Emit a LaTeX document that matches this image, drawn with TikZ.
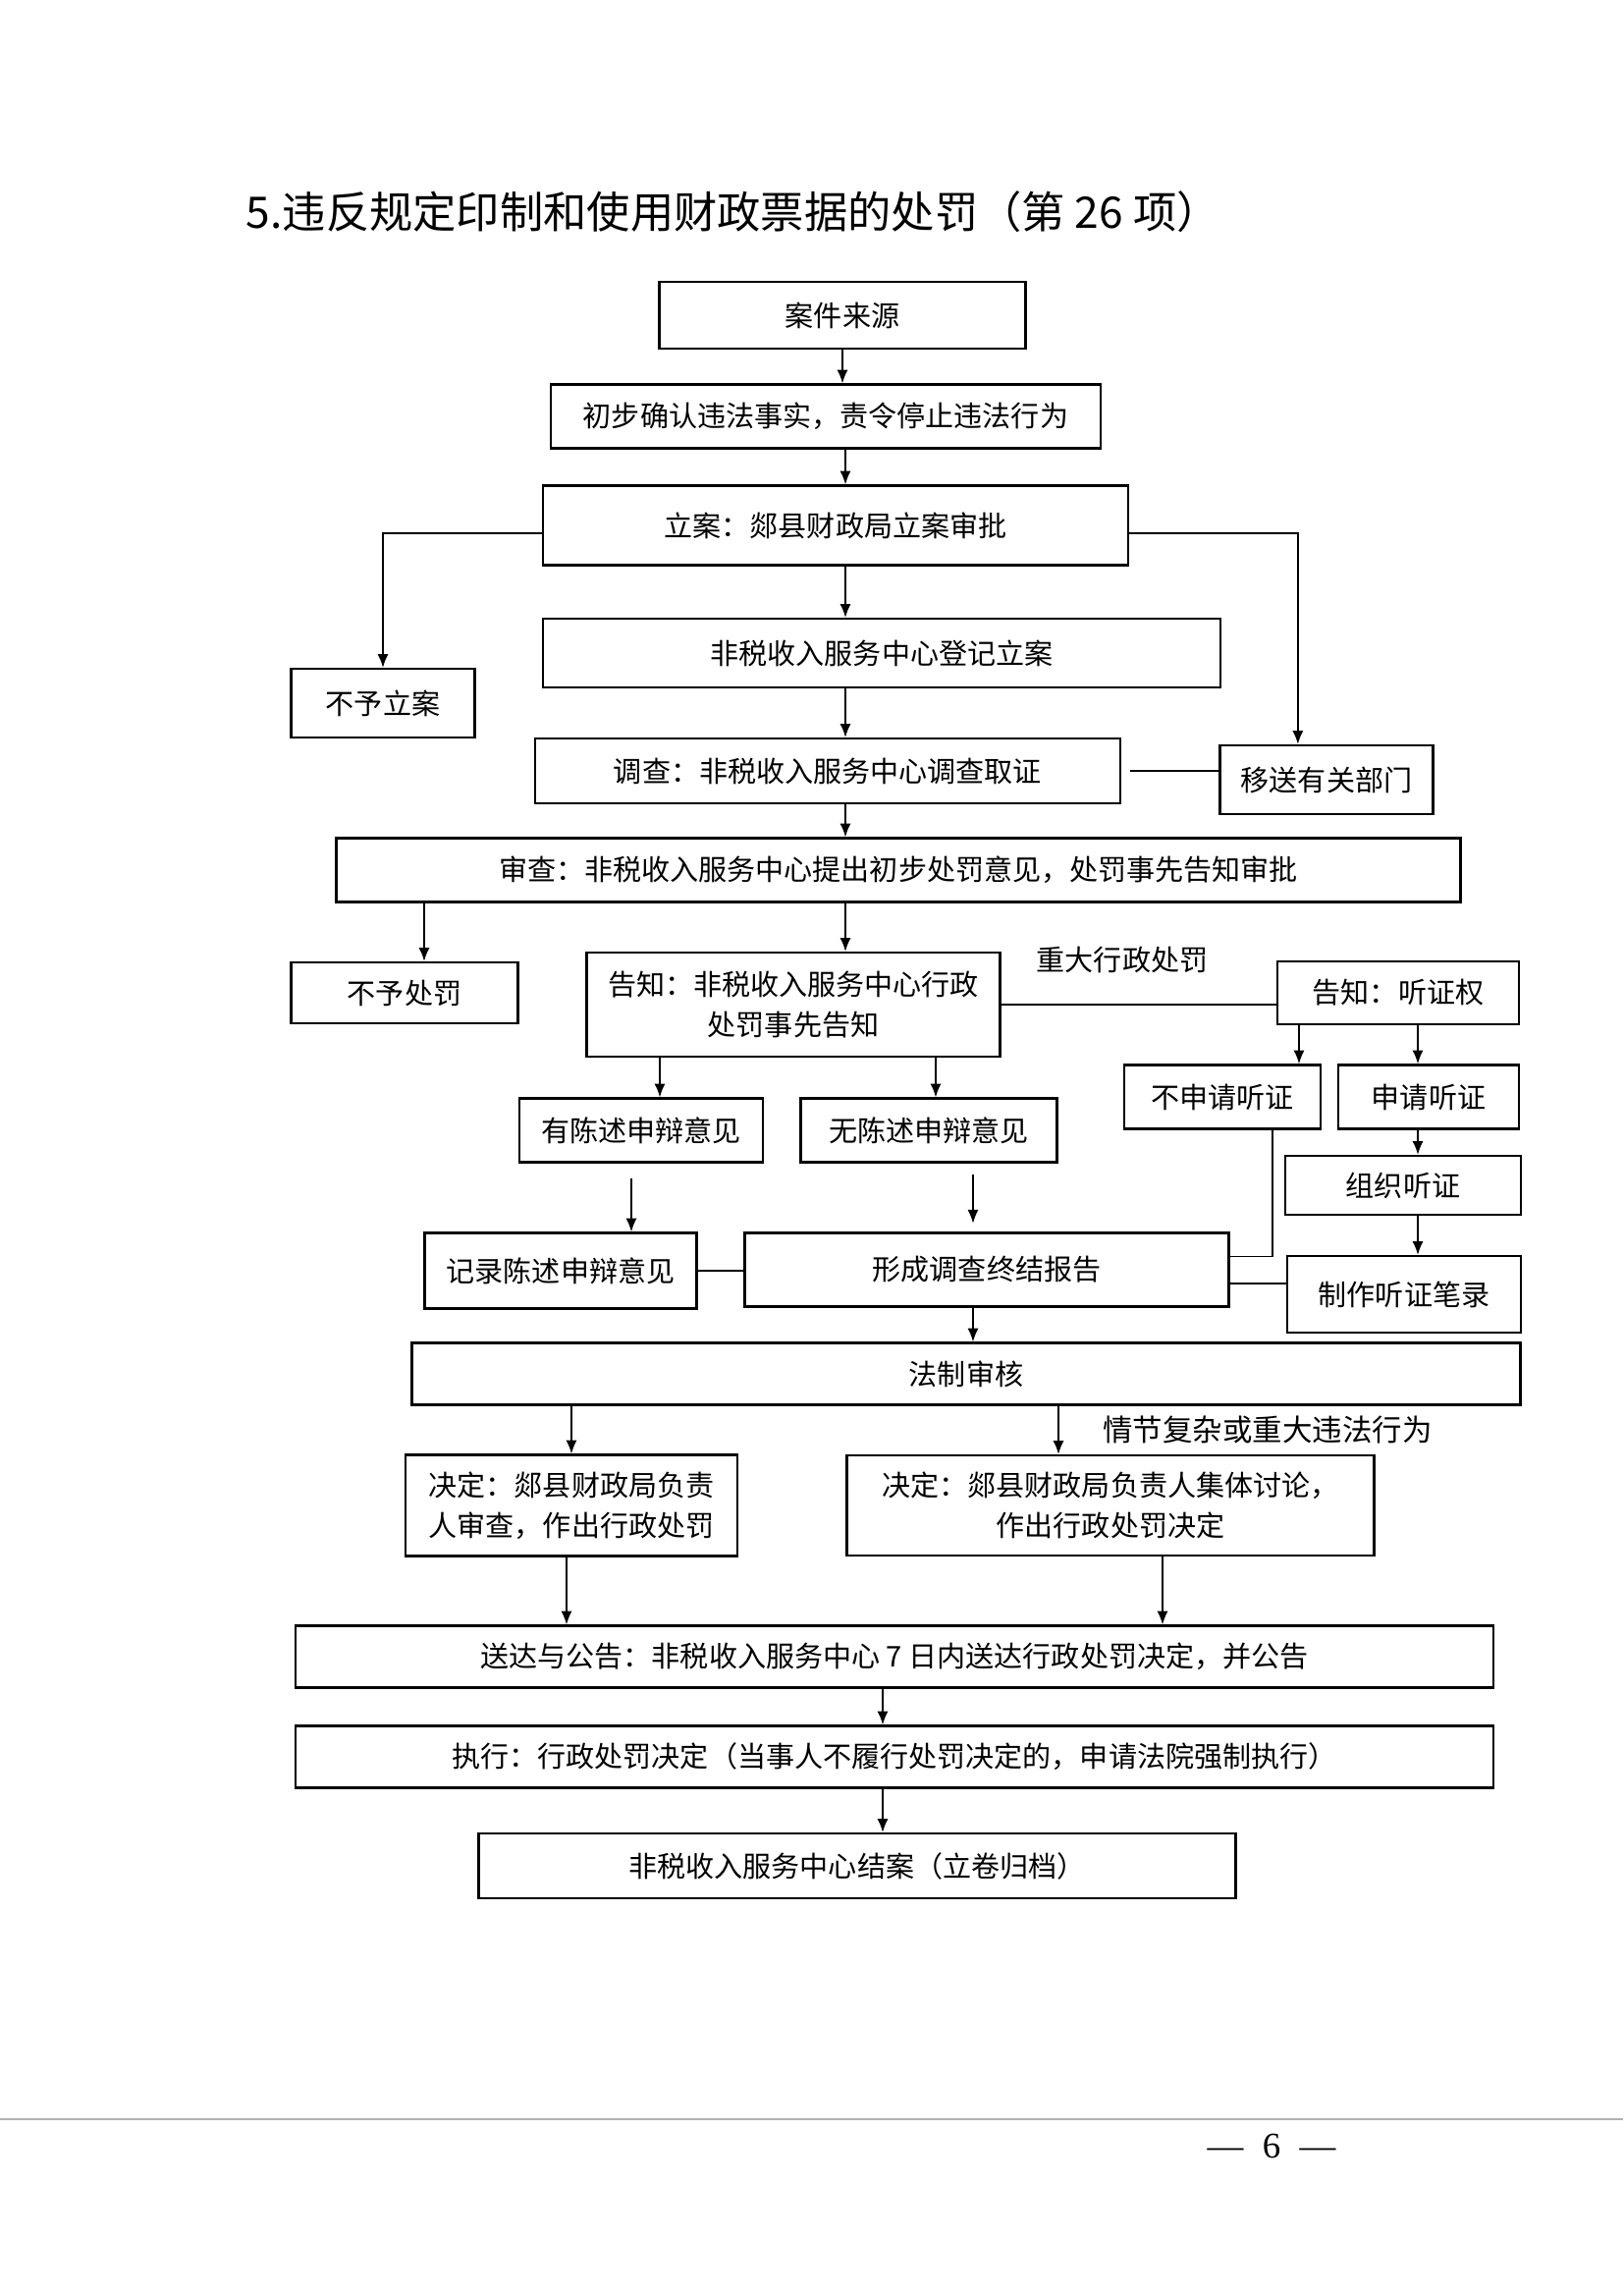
\documentclass[tikz,border=0pt]{standalone}
\usepackage{fontspec}
\setmainfont{Noto Sans CJK SC}
\newfontfamily\numfont{Liberation Serif}
\usetikzlibrary{arrows.meta}

\begin{document}
\begin{tikzpicture}[x=0.0127cm,y=-0.0127cm,>={Latex[length=5pt,width=4pt]},line width=0.6pt,
  b/.style={draw,line width=0.8pt,align=center,font=\fontsize{10.5}{14.7}\selectfont,inner sep=2pt},
  sz/.style n args={2}{minimum width=#1*0.0127cm,minimum height=#2*0.0127cm},
  lab/.style={font=\fontsize{10.5}{14.7}\selectfont,inner sep=0pt}]
\useasboundingbox (0,0) rectangle (1653,2336);
\node[anchor=west,inner sep=0pt,font=\fontsize{16}{18}\selectfont] (title) at (250,216) {5.违反规定印制和使用财政票据的处罚（第 26 项）};
% boxes
\node[b,sz={373}{68}] (src) at (858,321) {案件来源};
\node[b,sz={560}{65}] (prelim) at (841,424) {初步确认违法事实，责令停止违法行为};
\node[b,sz={596}{81}] (file) at (851,535) {立案：郯县财政局立案审批};
\node[b,sz={690}{70}] (reg) at (898,665) {非税收入服务中心登记立案};
\node[b,sz={187}{70}] (nofile) at (390,716) {不予立案};
\node[b,sz={596}{66}] (invest) at (843,785) {调查：非税收入服务中心调查取证};
\node[b,sz={217}{70}] (transfer) at (1351,794) {移送有关部门};
\node[b,sz={1145}{65}] (review) at (915,886) {审查：非税收入服务中心提出初步处罚意见，处罚事先告知审批};
\node[b,sz={231}{62}] (nopen) at (412,1011) {不予处罚};
\node[b,sz={421}{106}] (notice) at (808,1023) {告知：非税收入服务中心行政\\处罚事先告知};
\node[b,sz={246}{64}] (hright) at (1424,1011) {告知：听证权};
\node[b,sz={200}{65}] (nohear) at (1245,1117) {不申请听证};
\node[b,sz={184}{65}] (askhear) at (1455,1117) {申请听证};
\node[b,sz={248}{65}] (plea) at (653,1151) {有陈述申辩意见};
\node[b,sz={261}{65}] (noplea) at (946,1151) {无陈述申辩意见};
\node[b,sz={240}{60}] (org) at (1429,1207) {组织听证};
\node[b,sz={277}{77}] (record) at (571,1294) {记录陈述申辩意见};
\node[b,sz={493}{75}] (report) at (1005,1293) {形成调查终结报告};
\node[b,sz={238}{78}] (minutes) at (1430,1318) {制作听证笔录};
\node[b,sz={1129}{63}] (legal) at (984,1399) {法制审核};
\node[b,sz={338}{103}] (dec1) at (582,1533) {决定：郯县财政局负责\\人审查，作出行政处罚};
\node[b,sz={537}{102}] (dec2) at (1131,1533) {决定：郯县财政局负责人集体讨论，\\作出行政处罚决定};
\node[b,sz={1220}{63}] (serve) at (911,1687) {送达与公告：非税收入服务中心 7 日内送达行政处罚决定，并公告};
\node[b,sz={1220}{63}] (exec) at (911,1789) {执行：行政处罚决定（当事人不履行处罚决定的，申请法院强制执行）};
\node[b,sz={771}{66}] (close) at (873,1900) {非税收入服务中心结案（立卷归档）};
% labels
\node[lab] (major) at (1143,977) {重大行政处罚};
\node[lab,font=\fontsize{11}{14}\selectfont] (complex) at (1291,1456) {情节复杂或重大违法行为};
% columns for the arrows
\coordinate (sp) at (861,0);
\coordinate (cnp) at (432,0);
\coordinate (cpl) at (672,0);
\coordinate (cnpl) at (953,0);
\coordinate (cnh) at (1323,0);
\coordinate (cah) at (1444,0);
\coordinate (crec) at (643,0);
\coordinate (crep) at (991,0);
\coordinate (cdown) at (1296,0);
\coordinate (cd1) at (582,0);
\coordinate (cd2) at (1078,0);
\coordinate (cs1) at (577,0);
\coordinate (cs2) at (1184,0);
\coordinate (cex) at (899,0);
% connectors
\draw[->] (src) -- (src.south |- prelim.north);
\draw[->] (prelim.south -| sp) -- (file.north -| sp);
\draw[->] (file.south -| sp) -- (reg.north -| sp);
\draw[->] (reg.south -| sp) -- (invest.north -| sp);
\draw[->] (invest.south -| sp) -- (review.north -| sp);
\draw[->] (review.south -| sp) -- (notice.north -| sp);
\draw[->] ([yshift=-0.1cm]file.west) -| (nofile);
\draw[->] ([yshift=-0.1cm]file.east) -| ([xshift=-0.37cm]transfer.north);
\draw[shorten <=0.11cm] (invest.east) -- (invest.east -| transfer.west);
\draw[->] (review.south -| cnp) -- (nopen.north -| cnp);
\draw (notice.east) -- (notice.east -| hright.west);
\draw[->] (hright.south -| cnh) -- (nohear.north -| cnh);
\draw[->] (hright.south -| cah) -- (askhear.north -| cah);
\draw[->] (notice.south -| cpl) -- (plea.north -| cpl);
\draw[->] (notice.south -| cnpl) -- (noplea.north -| cnpl);
\draw[->,shorten <=0.2cm] (plea.south -| crec) -- (record.north -| crec);
\draw[->,shorten <=0.15cm,shorten >=0.11cm] (noplea.south -| crep) -- (report.north -| crep);
\draw (record.east) -- (record.east -| report.west);
\draw (nohear.south -| cdown) |- ([yshift=0.17cm]report.east);
\draw ([yshift=-0.18cm]report.east) -- ([yshift=-0.18cm]report.east -| minutes.west);
\draw[->] (askhear.south -| cah) -- (org.north -| cah);
\draw[->] (org.south -| cah) -- (minutes.north -| cah);
\draw[->] (report.south -| crep) -- (legal.north -| crep);
\draw[->] (legal.south -| cd1) -- (dec1.north -| cd1);
\draw[->] (legal.south -| cd2) -- (dec2.north -| cd2);
\draw[->] (dec1.south -| cs1) -- (serve.north -| cs1);
\draw[->] (dec2.south -| cs2) -- (serve.north -| cs2);
\draw[->] (serve.south -| cex) -- (exec.north -| cex);
\draw[->] (exec.south -| cex) -- (close.north -| cex);
% footer
\draw[gray!60,line width=0.4pt] (0,2158) -- (1653,2158);
\node[font=\numfont\fontsize{13.3}{15}\selectfont,inner sep=0pt] (page) at (1295,2185) {—\hspace{7pt}6\hspace{7pt}—};
\end{tikzpicture}
\end{document}
